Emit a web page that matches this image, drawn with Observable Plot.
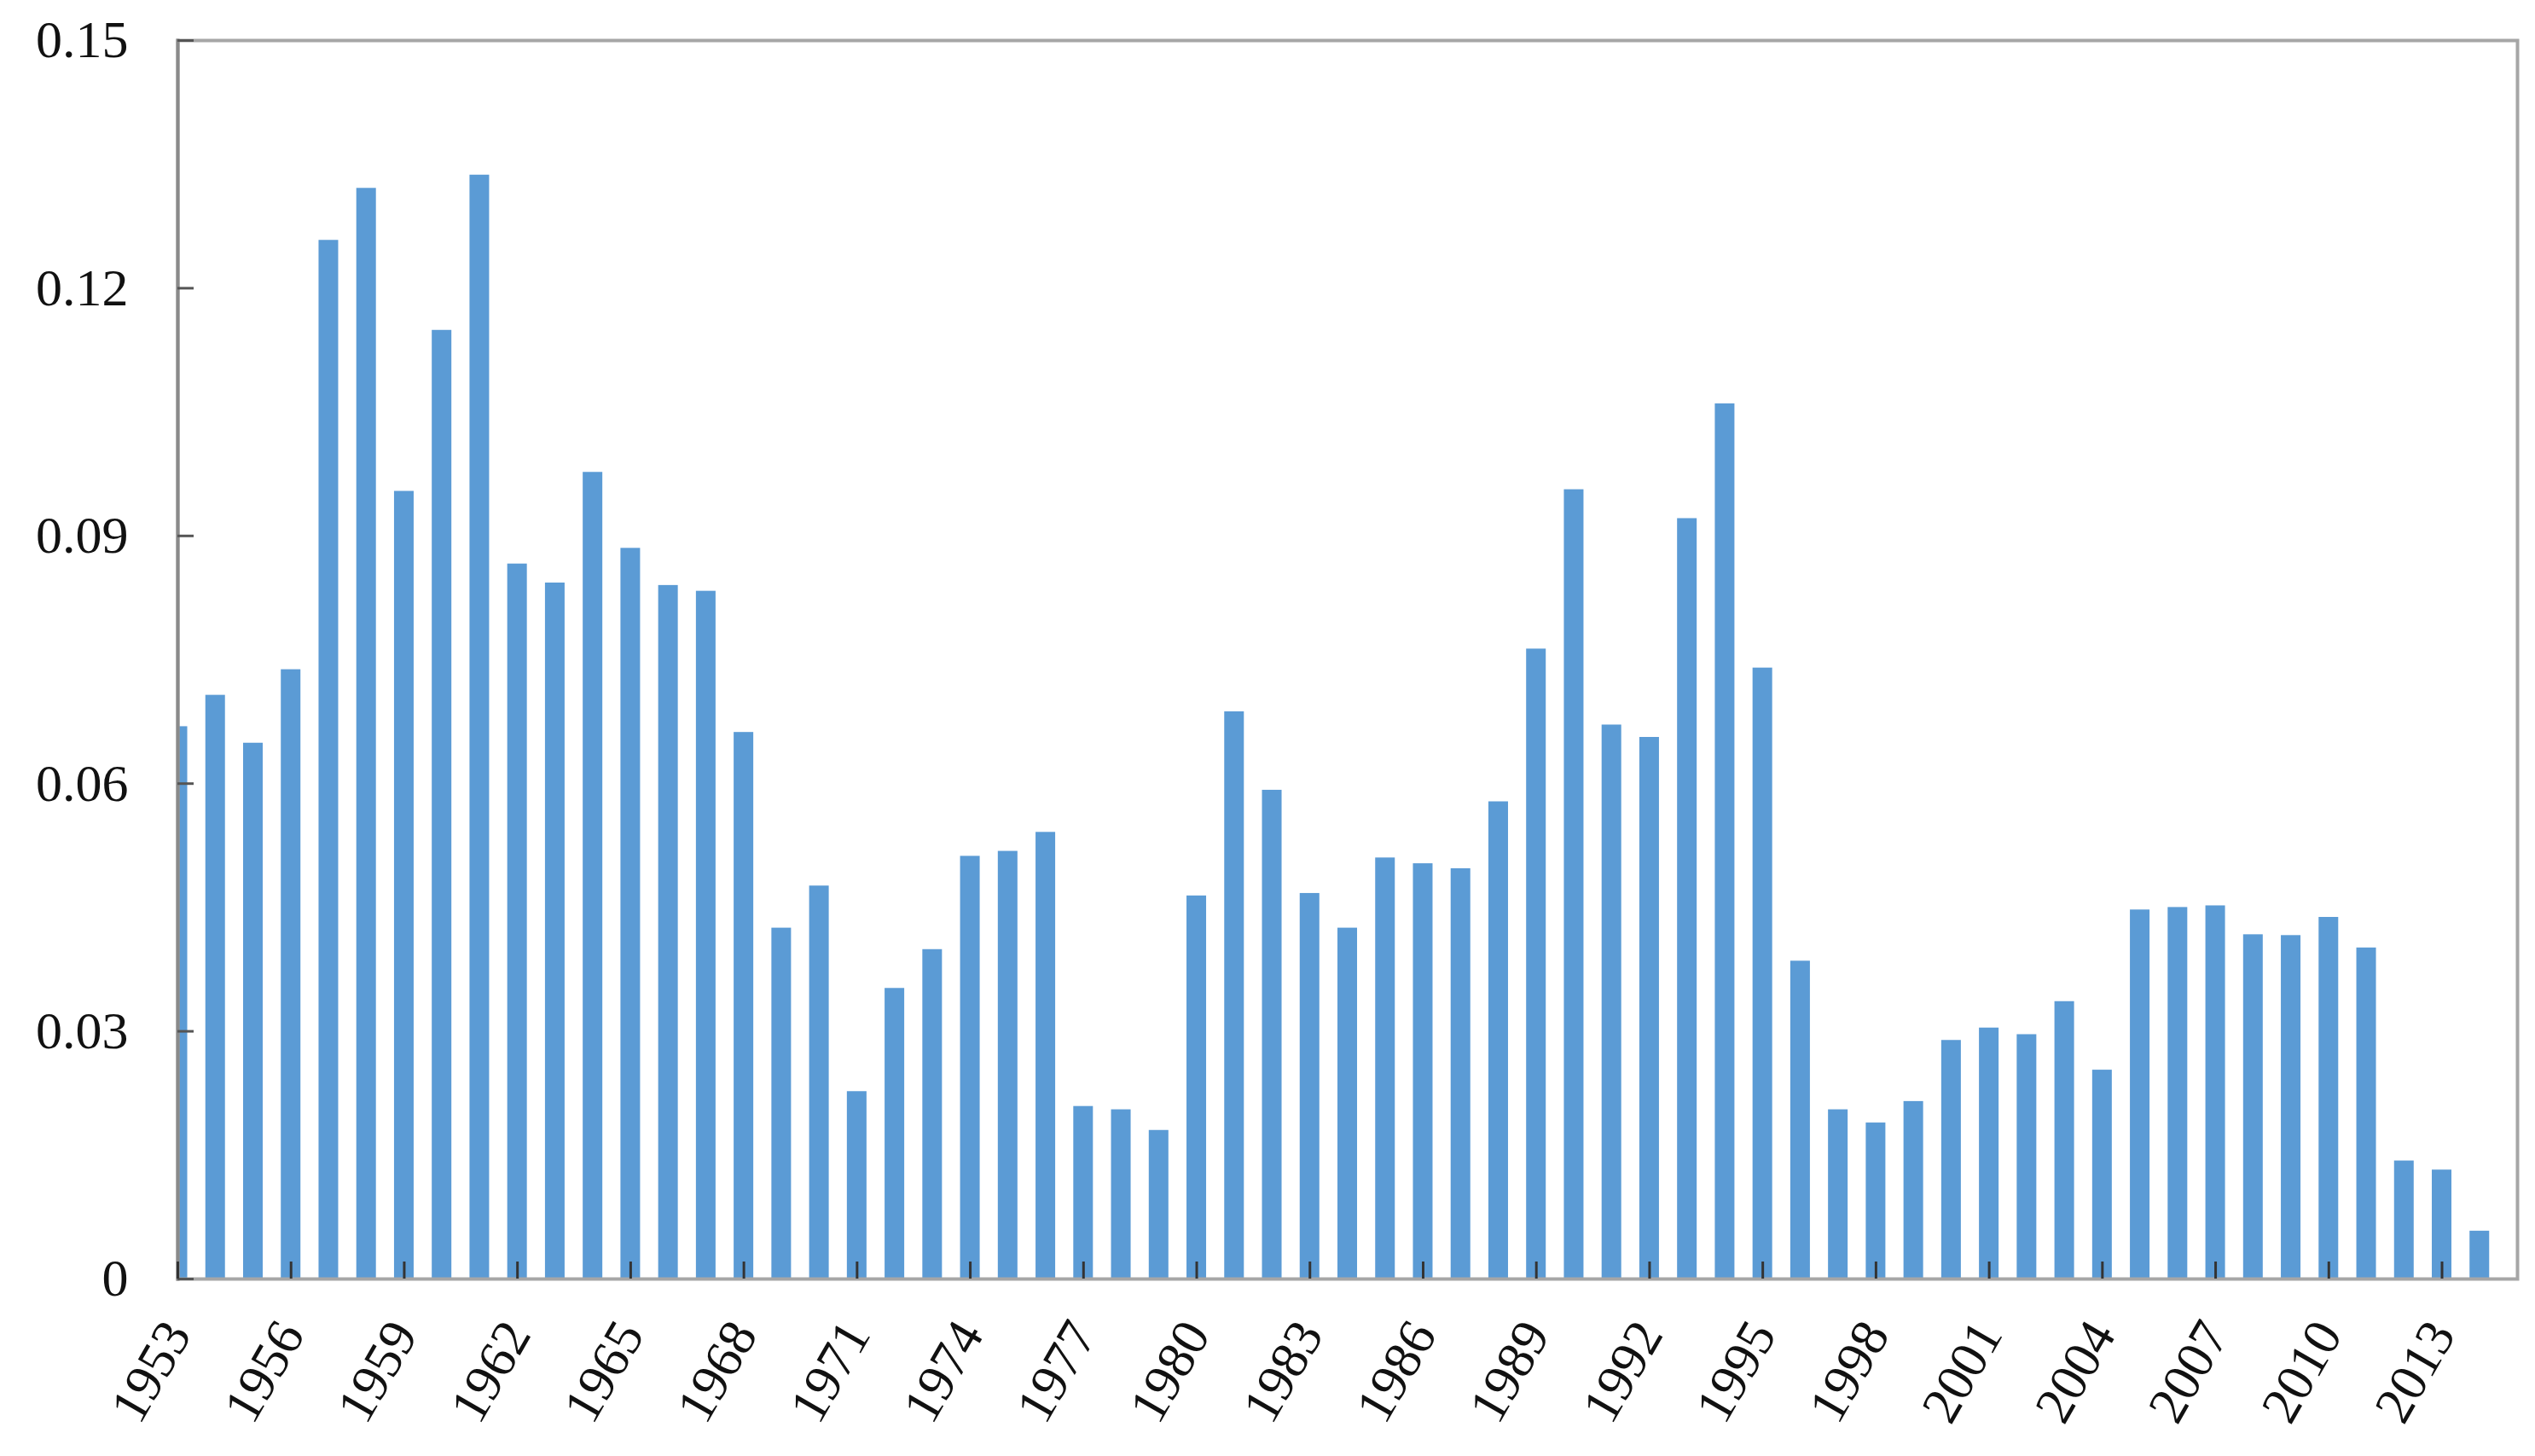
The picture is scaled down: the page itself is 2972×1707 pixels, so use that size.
<!DOCTYPE html>
<html>
<head>
<meta charset="utf-8">
<script src="https://cdn.jsdelivr.net/npm/d3@7"></script>
<script src="https://cdn.jsdelivr.net/npm/@observablehq/plot@0.6"></script>
<style>
  html, body { margin: 0; padding: 0; background: #ffffff; }
  #chart svg { display: block; }
</style>
</head>
<body>
<div id="chart"></div>
<script>
// Categories (years) and the series values
const years = d3.range(1953, 2015);
const values = [
  0.0669, 0.0707, 0.0649, 0.0738, 0.1258, 0.1321, 0.0954, 0.1149, 0.1337, 0.0866,
  0.0843, 0.0977, 0.0885, 0.0840, 0.0833, 0.0662, 0.0425, 0.0476, 0.0227, 0.0352,
  0.0399, 0.0512, 0.0518, 0.0541, 0.0209, 0.0205, 0.0180, 0.0464, 0.0687, 0.0592,
  0.0467, 0.0425, 0.0510, 0.0503, 0.0497, 0.0578, 0.0763, 0.0956, 0.0671, 0.0656,
  0.0921, 0.1060, 0.0740, 0.0385, 0.0205, 0.0189, 0.0215, 0.0289, 0.0304, 0.0296,
  0.0336, 0.0253, 0.0447, 0.0450, 0.0452, 0.0417, 0.0416, 0.0438, 0.0401, 0.0143,
  0.0132, 0.0058
];
// Axis ticks and labels
const xTickYears = [1953, 1956, 1959, 1962, 1965, 1968, 1971, 1974, 1977, 1980, 1983, 1986, 1989, 1992, 1995, 1998, 2001, 2004, 2007, 2010, 2013];
const xTickLabels = ["1953", "1956", "1959", "1962", "1965", "1968", "1971", "1974", "1977", "1980", "1983", "1986", "1989", "1992", "1995", "1998", "2001", "2004", "2007", "2010", "2013"];
const yTicks = [0, 0.03, 0.06, 0.09, 0.12, 0.15];
const yTickLabels = ["0", "0.03", "0.06", "0.09", "0.12", "0.15"];

const data = years.map((year, i) => ({year, value: values[i]}));
const xLabels = xTickYears.map((year, i) => ({year, label: xTickLabels[i]}));
const yLabelMap = new Map(yTicks.map((t, i) => [t, yTickLabels[i]]));
const half = 0.26; // half bar width in category units

const chart = Plot.plot({
  width: 2972,
  height: 1707,
  marginLeft: 208,
  marginRight: 21,
  marginTop: 47,
  marginBottom: 208,
  x: {type: "linear", domain: [1953, 2015], axis: null},
  y: {domain: [0, 0.15], axis: null},
  style: {fontFamily: "'Liberation Serif', 'Times New Roman', serif", fontSize: "62px", background: "#ffffff", color: "#111111"},
  marks: [
    Plot.rectY(data, {x1: d => d.year - half, x2: d => d.year + half, y: "value", fill: "#5B9BD5", clip: true}),
    Plot.frame({stroke: "#a6a6a6", strokeWidth: 4}),
    Plot.frame({anchor: "left", stroke: "#8a8a8a", strokeWidth: 4}),
    Plot.axisY(yTicks, {anchor: "left", label: null, tickSize: -19, tickFormat: () => "", stroke: "#555555", strokeWidth: 3}),
    Plot.axisY(yTicks, {anchor: "left", label: null, tickSize: 0, tickPadding: 58, tickFormat: d => yLabelMap.get(d), fontSize: 62, fill: "#111111"}),
    Plot.axisX(xTickYears, {anchor: "bottom", label: null, tickSize: -20, tickFormat: () => "", stroke: "#333333", strokeWidth: 3}),
    Plot.text(xLabels, {x: "year", y: () => 0, text: "label", rotate: -60, textAnchor: "end", lineAnchor: "bottom", dx: 17, dy: 65, fontSize: 62, fill: "#111111"})
  ]
});
document.getElementById("chart").appendChild(chart);
</script>
</body>
</html>
